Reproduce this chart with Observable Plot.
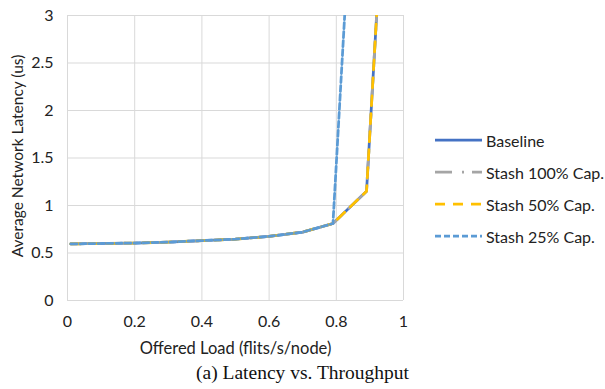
<!DOCTYPE html>
<html>
<head>
<meta charset="utf-8">
<script src="https://cdn.jsdelivr.net/npm/d3@7"></script>
<script src="https://cdn.jsdelivr.net/npm/@observablehq/plot@0.6"></script>
<style>
  html, body { margin: 0; padding: 0; background: #fff; }
  #wrap { position: relative; width: 605px; height: 389px; font-family: Lato, "Open Sans", sans-serif; }
  #legend { position: absolute; left: 435px; top: 124px; font-size: 16px; color: #222; white-space: nowrap; }
  .item { display: flex; align-items: center; height: 32px; }
  .item svg { margin-right: 4px; }
  #caption { position: absolute; left: 0; width: 605px; top: 362px; text-align: center;
    font-family: "Liberation Serif", "DejaVu Serif", serif; font-size: 19.5px; color: #111; }
</style>
</head>
<body>
<div id="wrap">
  <div id="chart"></div>
  <div id="legend"></div>
  <div id="caption">(a) Latency vs. Throughput</div>
</div>
<script>
// Data
const load = [0.01, 0.1, 0.2, 0.3, 0.4, 0.5, 0.6, 0.7, 0.79, 0.89, 0.95];
const baseline = [0.595, 0.60, 0.605, 0.615, 0.63, 0.645, 0.675, 0.72, 0.81, 1.15, 4.85];
const stash100 = [0.595, 0.60, 0.605, 0.615, 0.63, 0.645, 0.675, 0.72, 0.81, 1.15, 4.85];
const stash50  = [0.595, 0.60, 0.605, 0.615, 0.63, 0.645, 0.675, 0.72, 0.81, 1.15, 4.85];
const load25   = [0.01, 0.1, 0.2, 0.3, 0.4, 0.5, 0.6, 0.7, 0.79, 0.85];
const stash25  = [0.595, 0.60, 0.605, 0.615, 0.63, 0.645, 0.675, 0.72, 0.81, 4.57];
const xTicks = [0, 0.2, 0.4, 0.6, 0.8, 1];
const yTicks = [0, 0.5, 1, 1.5, 2, 2.5, 3];
const xTitle = "Offered Load (flits/s/node)";
const yTitle = "Average Network Latency (us)";
const seriesNames = ["Baseline", "Stash 100% Cap.", "Stash 50% Cap.", "Stash 25% Cap."];
const seriesColors = ["#4472C4", "#A5A5A5", "#FFC000", "#5B9BD5"];
const seriesDash = [null, "17,10,2,8", "10,8", "6,3"];

const series = [
  {name: seriesNames[0], xs: load, ys: baseline},
  {name: seriesNames[1], xs: load, ys: stash100},
  {name: seriesNames[2], xs: load, ys: stash50},
  {name: seriesNames[3], xs: load25, ys: stash25}
].map((s, i) => ({...s, color: seriesColors[i], dash: seriesDash[i],
  data: s.xs.map((x, j) => ({x, y: s.ys[j]}))}));

const gridColor = "#D9D9D9";
const font = "Lato, 'Open Sans', sans-serif";
const chart = Plot.plot({
  width: 605,
  height: 360,
  marginLeft: 67,
  marginRight: 202,
  marginTop: 15,
  marginBottom: 60,
  style: {fontFamily: font, fontSize: "16px", color: "#222", background: "#fff"},
  x: {domain: [0, 1]},
  y: {domain: [0, 3]},
  marks: [
    Plot.gridX(xTicks, {stroke: gridColor, strokeOpacity: 1, strokeWidth: 1}),
    Plot.gridY(yTicks, {stroke: gridColor, strokeOpacity: 1, strokeWidth: 1}),
    Plot.axisX(xTicks, {tickSize: 0, tickPadding: 15, label: null, fontSize: 16, tickFormat: d => String(d)}),
    Plot.axisY(yTicks, {tickSize: 0, tickPadding: 14, label: null, fontSize: 16, tickFormat: d => String(d)}),
    Plot.text([xTitle], {text: d => d, frameAnchor: "bottom", dy: 48, lineAnchor: "middle", fontSize: 16.5, fill: "#222"}),
    Plot.text([yTitle], {text: d => d, frameAnchor: "left", dx: -49, dy: -2, rotate: -90, lineAnchor: "middle", textAnchor: "middle", fontSize: 15.5, fill: "#222"}),
    ...series.map(s => Plot.line(s.data, {x: "x", y: "y", stroke: s.color, strokeWidth: 2.75,
      strokeDasharray: s.dash, strokeLinejoin: "round", clip: true}))
  ]
});
document.getElementById("chart").appendChild(chart);

// Legend
const legend = d3.select("#legend");
series.forEach(s => {
  const item = legend.append("div").attr("class", "item");
  const svg = item.append("svg").attr("width", 47).attr("height", 6);
  svg.append("line").attr("x1", 0).attr("x2", 47).attr("y1", 3).attr("y2", 3)
    .attr("stroke", s.color).attr("stroke-width", 2.75)
    .attr("stroke-dasharray", s.dash);
  item.append("span").text(s.name);
});
</script>
</body>
</html>
